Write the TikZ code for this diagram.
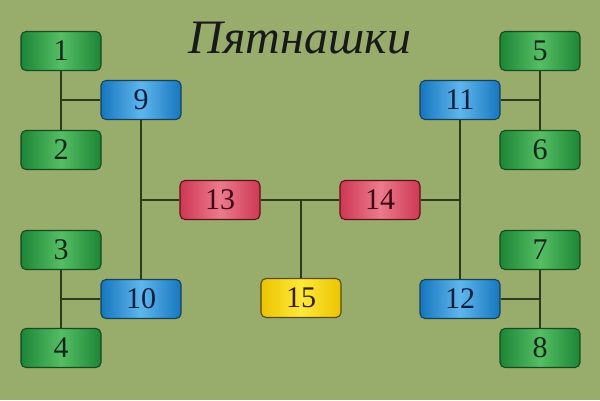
\documentclass[tikz,border=0pt]{standalone}
\usepackage{fontspec}
\setmainfont{Liberation Serif}
\definecolor{bg}{HTML}{98AD6C}
\definecolor{wire}{HTML}{2E3A1C}
\definecolor{gDark}{HTML}{1C8636}\definecolor{gLight}{HTML}{55BE64}\definecolor{gLine}{HTML}{174A20}\definecolor{gText}{HTML}{15251A}
\definecolor{bDark}{HTML}{1776BE}\definecolor{bLight}{HTML}{5EB6EC}\definecolor{bLine}{HTML}{16405A}\definecolor{bText}{HTML}{0E1E3C}
\definecolor{rDark}{HTML}{CE3854}\definecolor{rLight}{HTML}{EC7A8C}\definecolor{rLine}{HTML}{5A1020}\definecolor{rText}{HTML}{3E0812}
\definecolor{yDark}{HTML}{EAC400}\definecolor{yLight}{HTML}{FFE83A}\definecolor{yLine}{HTML}{5A4A10}\definecolor{yText}{HTML}{2E2200}
\tikzset{
  tile/.style={rounded corners=5pt, minimum width=80pt, minimum height=39pt, inner sep=0pt, line width=1.1pt,
    font=\fontsize{30}{30}\selectfont},
  gtile/.style={tile, draw=gLine, left color=gDark, right color=gDark, middle color=gLight, text=gText},
  btile/.style={tile, draw=bLine, left color=bDark, right color=bDark, middle color=bLight, text=bText},
  rtile/.style={tile, draw=rLine, left color=rDark, right color=rDark, middle color=rLight, text=rText},
  ytile/.style={tile, draw=yLine, left color=yDark, right color=yDark, middle color=yLight, text=yText},
  wire/.style={draw=wire, line width=1.4pt}
}
\begin{document}
\begin{tikzpicture}[x=1pt,y=-1pt]
\fill[bg] (0,0) rectangle (600,400);
\useasboundingbox (0,0) rectangle (600,400);
\node[font=\fontsize{48}{48}\selectfont\itshape, text=black!90] (title) at (300,38) {Пятнашки};
% junction coordinates
\coordinate (jL1) at (61,100);
\coordinate (jL2) at (61,299);
\coordinate (jM1) at (141,200);
\coordinate (jC) at (301,200);
\coordinate (jM2) at (460,200);
\coordinate (jR1) at (540,100);
\coordinate (jR2) at (540,299);
% wires (drawn first)
\path[wire] (61,51) -- (61,150);
\path[wire] (61,250) -- (61,348);
\path[wire] (141,100) -- (141,299);
\path[wire] (460,100) -- (460,299);
\path[wire] (540,51) -- (540,150);
\path[wire] (540,250) -- (540,348);
% nodes
\node[gtile] (n1) at (61,51) {1};
\node[gtile] (n2) at (61,150) {2};
\node[gtile] (n3) at (61,250) {3};
\node[gtile] (n4) at (61,348) {4};
\node[gtile] (n5) at (540,51) {5};
\node[gtile] (n6) at (540,150) {6};
\node[gtile] (n7) at (540,250) {7};
\node[gtile] (n8) at (540,348) {8};
\node[btile] (n9) at (141,100) {9};
\node[btile] (n10) at (141,299) {10};
\node[btile] (n11) at (460,100) {11};
\node[btile] (n12) at (460,299) {12};
\node[rtile] (n13) at (220,200) {13};
\node[rtile] (n14) at (380,200) {14};
\node[ytile] (n15) at (301,298) {15};
% connectors
\path[wire] (jL1) -- (n9.west);
\path[wire] (jL2) -- (n10.west);
\path[wire] (jM1) -- (n13.west);
\path[wire] (n13.east) -- (n14.west);
\path[wire] (jC) -- (n15.north);
\path[wire] (n14.east) -- (jM2);
\path[wire] (jR1) -- (n11.east);
\path[wire] (jR2) -- (n12.east);
\end{tikzpicture}
\end{document}
